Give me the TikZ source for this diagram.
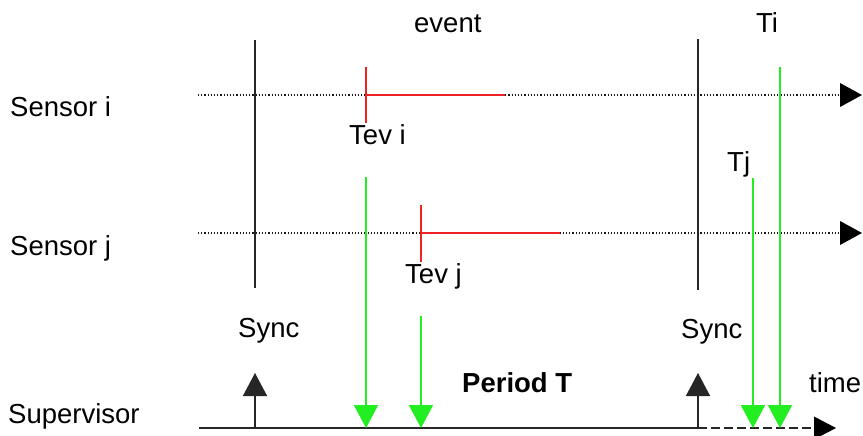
\documentclass[tikz,border=0pt]{standalone}
\usepackage{fontspec}
\setmainfont{Liberation Sans}
\usetikzlibrary{arrows.meta}
\definecolor{sig}{HTML}{22EE22}
\definecolor{evred}{HTML}{EE2222}
\begin{document}
\begin{tikzpicture}[x=1pt,y=-1pt,
  lbl/.style={anchor=base west,inner sep=0pt,font=\fontsize{27.5}{31}\selectfont},
  dotline/.style={line width=1.1pt,black!90,dash pattern=on 1.1pt off 2.1pt},
  syncline/.style={line width=1.5pt,black!85},
  greenarrow/.style={line width=2pt,sig,-{Triangle[length=23pt,width=24pt]}},
  redmark/.style={line width=2pt,evred}]
\useasboundingbox[fill=white] (0,0) rectangle (863,436);

% coordinates
\coordinate (si0) at (198,95);  \coordinate (si1) at (862,95);
\coordinate (sj0) at (198,233); \coordinate (sj1) at (862,233);
\coordinate (sv0) at (199,428); \coordinate (sv1) at (698,428); \coordinate (sv2) at (836,428);
\coordinate (syncA0) at (255,40); \coordinate (syncA1) at (255,288);
\coordinate (syncB0) at (698,39); \coordinate (syncB1) at (698,290);
\coordinate (syncBm0) at (698,123); \coordinate (syncBm1) at (698,205);
\coordinate (tevi0) at (366,67); \coordinate (tevi1) at (366,123);
\coordinate (tevic) at (366,95); \coordinate (tevie) at (505,95);
\coordinate (tevj0) at (421,205); \coordinate (tevj1) at (421,262);
\coordinate (tevjc) at (421,233); \coordinate (tevje) at (560,233);
\coordinate (gA0) at (366,177); \coordinate (gA1) at (366,428);
\coordinate (gB0) at (421,316); \coordinate (gB1) at (421,428);
\coordinate (gC0) at (753,178); \coordinate (gC1) at (753,428);
\coordinate (gD0) at (780,67);  \coordinate (gD1) at (780,428);
\coordinate (upA0) at (255,428); \coordinate (upA1) at (255,373);
\coordinate (upB0) at (698,428); \coordinate (upB1) at (698,373);

% time lines
\draw[dotline] (si0) -- (840,95);
\fill (840,83) -- (si1) -- (840,107) -- cycle;
\draw[dotline] (sj0) -- (840,233);
\fill (840,221) -- (sj1) -- (840,245) -- cycle;
\draw[line width=1.5pt,black!85] (sv0) -- (sv1);
\draw[line width=1.5pt,black!85,dash pattern=on 9pt off 4pt] (sv1) -- (814,428);
\fill (814,416.5) -- (sv2) -- (814,439.5) -- cycle;

% sync lines
\draw[syncline] (syncA0) -- (syncA1);
\draw[syncline] (syncB0) -- (syncB1);
\draw[line width=2.3pt,black!85] (syncBm0) -- (syncBm1);

% events
\draw[redmark] (tevi0) -- (tevi1);
\draw[redmark] (tevic) -- (tevie);
\draw[redmark] (tevj0) -- (tevj1);
\draw[redmark] (tevjc) -- (tevje);

% green arrows
\draw[greenarrow] (gA0) -- (gA1);
\draw[greenarrow] (gB0) -- (gB1);
\draw[greenarrow] (gC0) -- (gC1);
\draw[greenarrow] (gD0) -- (gD1);

% sync up arrows
\draw[line width=1.5pt,black!85,-{Triangle[length=23pt,width=24pt]}] (upA0) -- (upA1);
\draw[line width=1.5pt,black!85,-{Triangle[length=23pt,width=24pt]}] (upB0) -- (upB1);

% labels
\node[lbl] (lsi) at (10,117) {Sensor i};
\node[lbl] (lsj) at (10,255) {Sensor j};
\node[lbl] (lsv) at (8,423) {Supervisor};
\node[lbl] (lev) at (414,33) {event};
\node[lbl] (lti) at (756,33) {Ti};
\node[lbl] (ltevi) at (349,144) {Tev i};
\node[lbl] (ltevj) at (405,283) {Tev j};
\node[lbl] (lsyncA) at (238,337) {Sync};
\node[lbl] (lsyncB) at (681,338) {Sync};
\node[lbl] (ltj) at (727,171) {Tj};
\node[lbl,font=\fontsize{27.5}{31}\selectfont\bfseries] (lper) at (462,392) {Period T};
\node[lbl] (ltime) at (809,392) {time};
\end{tikzpicture}
\end{document}
